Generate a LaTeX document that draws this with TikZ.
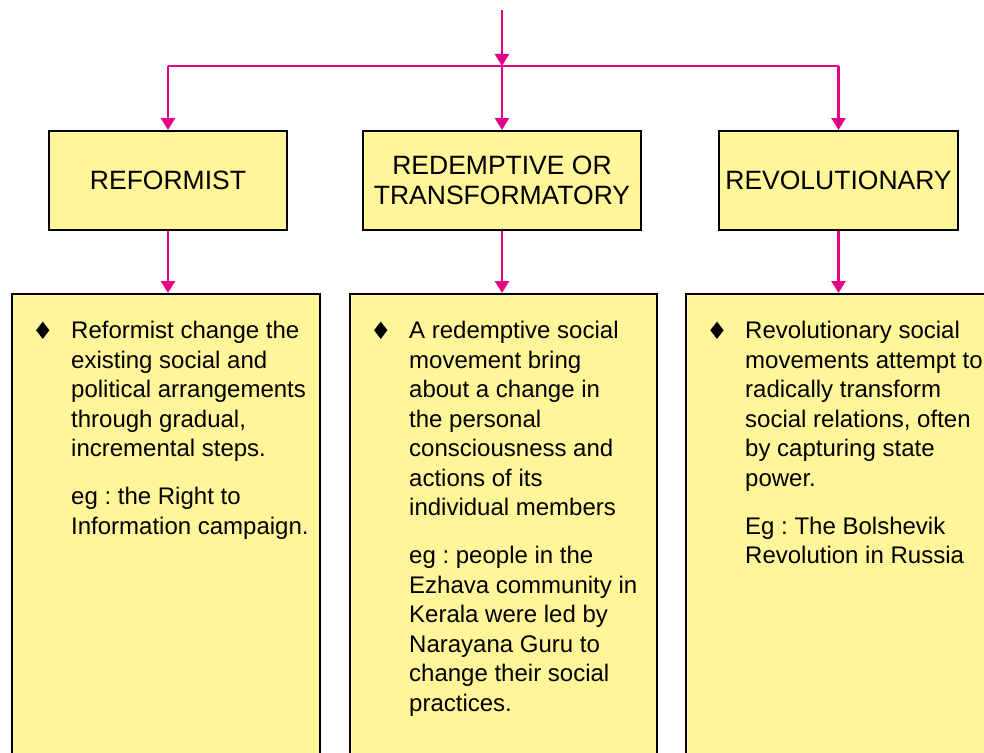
\documentclass[tikz,border=0pt]{standalone}
\usepackage{fontspec}
\setmainfont{Liberation Sans}
\newfontfamily\symfont{DejaVu Sans}
\usetikzlibrary{arrows.meta}
\frenchspacing

\definecolor{boxfill}{RGB}{255,245,153}
\definecolor{linkpink}{RGB}{230,0,132}

\newcommand{\dia}{{\symfont\char"2666}}

\begin{document}
\begin{tikzpicture}[x=1pt,y=-1pt,
  head/.style={draw,line width=2pt,fill=boxfill,minimum height=99pt,inner sep=0pt,
    anchor=north west,align=center,font=\fontsize{26.5}{30}\selectfont},
  panel/.style={draw,line width=2pt,fill=boxfill,minimum height=520pt,anchor=north west},
  body/.style={anchor=north west,align=left,inner sep=0pt,font=\fontsize{24}{29.5}\selectfont},
  dot/.style={anchor=base,inner sep=0pt,font=\fontsize{24}{24}\selectfont},
  link/.style={draw=linkpink,line width=2.5pt},
  flow/.style={link,-{Triangle[length=12pt,width=14pt]}}]
 \clip (0,0) rectangle (984,752);

 % kinds of movement
 \node[head,minimum width=238pt] (ref) at (48,130) {REFORMIST};
 \node[head,minimum width=278pt] (red) at (362,130) {REDEMPTIVE OR\\TRANSFORMATORY};
 \node[head,minimum width=239pt] (rev) at (718,130) {REVOLUTIONARY};

 % description panels (run off the page)
 \node[panel,minimum width=308pt] (refbox) at (11,293) {};
 \node[panel,minimum width=307pt] (redbox) at (349,293) {};
 \node[panel,minimum width=330pt] (revbox) at (685,293) {};

 \node[body] (reftxt) at ([shift={(60,28)}]refbox.north west)
  {Reformist change the\\existing social and\\political arrangements\\through gradual,\\incremental steps.\\[18.5pt]
   eg : the Right to\\Information campaign.};
 \node[body] (redtxt) at ([shift={(60,28)}]redbox.north west)
  {A redemptive social\\movement bring\\about a change in\\the personal\\consciousness and\\actions of its\\individual members\\[18.5pt]
   eg : people in the\\Ezhava community in\\Kerala were led by\\Narayana Guru to\\change their social\\practices.};
 \node[body] (revtxt) at ([shift={(60,28)}]revbox.north west)
  {Revolutionary social\\movements attempt to\\radically transform\\social relations, often\\by capturing state\\power.\\[18.5pt]
   Eg : The Bolshevik\\Revolution in Russia};

 \node[dot] at ([shift={(-28,18)}]reftxt.north west) {\dia};
 \node[dot] at ([shift={(-28,18)}]redtxt.north west) {\dia};
 \node[dot] at ([shift={(-28,18)}]revtxt.north west) {\dia};

 % connectors
 \coordinate (top) at (red.north |- 0,10);
 \coordinate (split) at (red.north |- 0,66);
 \draw[flow] (top) -- (split);
 \draw[link] (split -| ref.north) -- (split -| rev.north);
 \draw[flow] (split -| ref.north) -- (ref.north);
 \draw[flow] (split) -- (red.north);
 \draw[flow] (split -| rev.north) -- (rev.north);
 \draw[flow] (ref.south) -- (ref.south |- refbox.north);
 \draw[flow] (red.south) -- (red.south |- redbox.north);
 \draw[flow] (rev.south) -- (rev.south |- revbox.north);
\end{tikzpicture}
\end{document}
